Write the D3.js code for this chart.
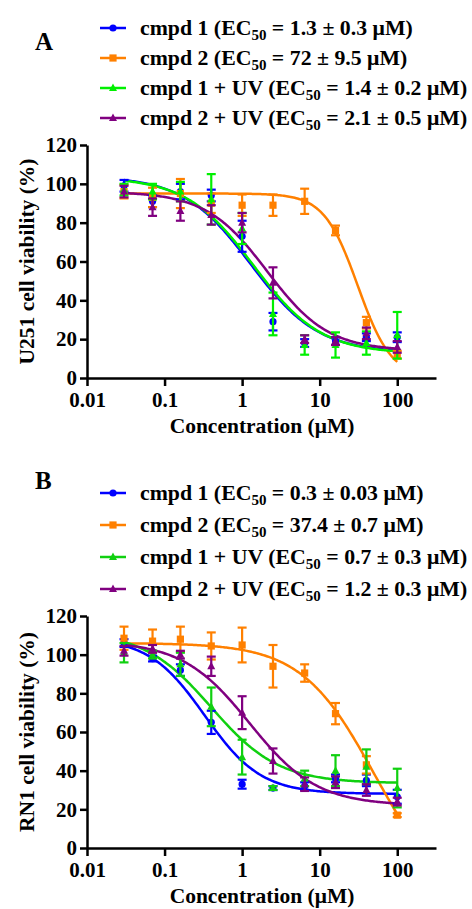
<!DOCTYPE html>
<html>
<head>
<meta charset="utf-8">
<script src="https://cdn.jsdelivr.net/npm/d3@7"></script>
<style>
  body { margin: 0; background: #fff; }
  svg text { font-family: "Liberation Serif", "Times New Roman", serif; font-weight: bold; fill: #000; }
</style>
</head>
<body>
<svg id="chart" width="472" height="909"></svg>
<script>
// Concentrations (uM), same for every series
const conc = [0.03, 0.07, 0.16, 0.4, 1, 2.5, 6.4, 16, 40, 100]
const xTicks = [0.01, 0.1, 1, 10, 100]
const xTickLabels = ["0.01", "0.1", "1", "10", "100"]
const yTicks = [0, 20, 40, 60, 80, 100, 120]

const seriesNames = ["cmpd 1", "cmpd 2", "cmpd 1 + UV", "cmpd 2 + UV"]

// Panel A (U251) means and errors
const aCmpd1 = [99, 91, 96, 94, 73, 29, 18, 19, 21, 21]
const aCmpd1Err = [3, 3, 4, 3, 8, 4.5, 2, 2, 2, 2.5]
const aCmpd2 = [96, 93, 95, 90, 89, 89, 91, 76, 28.5, 12]
const aCmpd2Err = [3.5, 5, 7.5, 5, 5.5, 5.5, 6.5, 2.5, 3, 2]
const aCmpd1UV = [97, 96, 96, 92, 77, 33, 17, 17, 18, 22]
const aCmpd1UVErr = [3, 4, 5, 13, 8, 11, 5, 6.5, 6, 12]
const aCmpd2UV = [96, 88, 86, 84, 80, 49, 20, 19, 23, 16]
const aCmpd2UVErr = [3, 4.5, 5, 5, 5, 8, 2, 2, 3, 3]
// fitted curves: [top, bottom, EC50, hill]
const aFits = [[104, 13, 1.3, 1], [95, 0, 31, 2], [103.5, 12.5, 1.4, 1], [96, 14, 2.1, 1.1]]
const aLegendEC = ["1.3 ± 0.3", "72 ± 9.5", "1.4 ± 0.2", "2.1 ± 0.5"]

// Panel B (RN1)
const bCmpd1 = [106, 98, 92, 65, 33, 31, 32, 36, 35, 26.5]
const bCmpd1Err = [2, 1.5, 3, 6, 2.3, 1, 2, 2, 3, 3.6]
const bCmpd2 = [108.5, 107, 108, 104.5, 105, 94, 90.5, 69.5, 43, 17]
const bCmpd2Err = [6, 6, 6.5, 7, 9, 11, 4.5, 5.5, 4.5, 1]
const bCmpd1UV = [101, 100, 95, 73, 47, 31, 36, 40, 42, 31]
const bCmpd1UVErr = [5, 2, 6, 10, 9, 1, 4, 8, 9, 10]
const bCmpd2UV = [102, 103, 100, 94, 70, 45, 33, 34, 30, 24]
const bCmpd2UVErr = [2.5, 2, 2, 5, 8.5, 6.5, 3.5, 3, 3, 2]
const bFits = [[109, 28, 0.33, 1.2], [106, -30, 51, 0.92], [112, 33.5, 0.4, 1], [107, 22, 1.25, 1]]
const bLegendEC = ["0.3 ± 0.03", "37.4 ± 0.7", "0.7 ± 0.3", "1.2 ± 0.3"]

const markers = ["circle", "square", "triangle", "triangle"]

const svg = d3.select("#chart")

// 4-parameter logistic used for the fit lines
function logistic(p, x) {
  return p[1] + (p[0] - p[1]) / (1 + Math.pow(x / p[2], p[3]))
}

function drawMarker(g, type, x, y, color) {
  if (type === "circle") {
    g.append("circle").attr("cx", x).attr("cy", y).attr("r", 3.6).attr("fill", color)
  } else if (type === "square") {
    g.append("rect").attr("x", x - 3.6).attr("y", y - 3.6).attr("width", 7.2).attr("height", 7.2).attr("fill", color)
  } else {
    g.append("path")
      .attr("d", `M${x},${y - 4.5}L${x + 4},${y + 3}L${x - 4},${y + 3}Z`)
      .attr("fill", color)
  }
}

function drawPanel(cfg) {
  const x = d3.scaleLog().domain([0.01, 316]).range([87, 436])
  const y = d3.scaleLinear().domain([0, 120]).range([cfg.bottom, cfg.top])
  const g = svg.append("g")

  // panel letter
  g.append("text").attr("x", 35).attr("y", cfg.letterY).style("font-size", "25px").text(cfg.letter)

  // legend
  cfg.series.forEach((s, i) => {
    const ly = cfg.legendY[i]
    g.append("line").attr("x1", 100).attr("x2", 126).attr("y1", ly).attr("y2", ly)
      .attr("stroke", s.color).attr("stroke-width", 2.5)
    drawMarker(g, markers[i], 113, ly, s.color)
    const t = g.append("text").attr("x", 140).attr("y", ly + 6.5).style("font-size", "21.8px")
    t.append("tspan").text(`${seriesNames[i]} (EC`)
    t.append("tspan").attr("dy", 5).style("font-size", "15px").text("50")
    t.append("tspan").attr("dy", -5).text(` = ${cfg.legendEC[i]} μM)`)
  })

  // axes
  const xAxis = g.append("g").attr("transform", `translate(0,${cfg.bottom})`)
    .call(d3.axisBottom(x).tickValues(xTicks).tickFormat((d, i) => xTickLabels[i]).tickSize(8).tickPadding(6).tickSizeOuter(0))
  const yAxis = g.append("g").attr("transform", "translate(87,0)")
    .call(d3.axisLeft(y).tickValues(yTicks).tickSize(7).tickPadding(3).tickSizeOuter(0))
  ;[xAxis, yAxis].forEach((a) => {
    a.select(".domain").attr("stroke-width", 2.5)
    a.selectAll(".tick line").attr("stroke-width", 2.5)
    a.selectAll("text").style("font-size", "21px").attr("font-family", null)
  })

  // axis titles
  g.append("text").attr("x", 262).attr("y", cfg.bottom + 55).attr("text-anchor", "middle")
    .style("font-size", "21.5px").text("Concentration (μM)")
  g.append("text").attr("transform", `translate(34,${(cfg.top + cfg.bottom) / 2}) rotate(-90)`)
    .attr("text-anchor", "middle").style("font-size", "21.5px").text(cfg.yTitle)

  // fit curves
  const xs = d3.range(0, 201).map((k) => Math.pow(10, Math.log10(0.03) + (k / 200) * (2 - Math.log10(0.03))))
  const line = d3.line().x((d) => x(d[0])).y((d) => y(d[1]))
  cfg.series.forEach((s) => {
    g.append("path").datum(xs.map((c) => [c, logistic(s.fit, c)]))
      .attr("d", line).attr("fill", "none").attr("stroke", s.color).attr("stroke-width", 2.5)
  })

  // error bars and markers
  cfg.series.forEach((s, i) => {
    const sg = g.append("g")
    s.values.forEach((v, j) => {
      const cx = x(conc[j])
      const lo = y(v - s.err[j])
      const hi = y(v + s.err[j])
      sg.append("line").attr("x1", cx).attr("x2", cx).attr("y1", lo).attr("y2", hi)
        .attr("stroke", s.color).attr("stroke-width", 2.2)
      ;[lo, hi].forEach((yy) => {
        sg.append("line").attr("x1", cx - 4.5).attr("x2", cx + 4.5).attr("y1", yy).attr("y2", yy)
          .attr("stroke", s.color).attr("stroke-width", 2.2)
      })
      drawMarker(sg, markers[i], cx, y(v), s.color)
    })
  })
}

drawPanel({
  letter: "A", letterY: 50, top: 145, bottom: 378,
  legendY: [28, 58, 88, 118], legendEC: aLegendEC,
  yTitle: "U251 cell viability (%)",
  series: [
    { values: aCmpd1, err: aCmpd1Err, fit: aFits[0], color: "#0000ff" },
    { values: aCmpd2, err: aCmpd2Err, fit: aFits[1], color: "#ff8000" },
    { values: aCmpd1UV, err: aCmpd1UVErr, fit: aFits[2], color: "#00f000" },
    { values: aCmpd2UV, err: aCmpd2UVErr, fit: aFits[3], color: "#800080" },
  ],
})

drawPanel({
  letter: "B", letterY: 489, top: 616, bottom: 848,
  legendY: [493, 525, 557, 589], legendEC: bLegendEC,
  yTitle: "RN1 cell viability (%)",
  series: [
    { values: bCmpd1, err: bCmpd1Err, fit: bFits[0], color: "#0000ff" },
    { values: bCmpd2, err: bCmpd2Err, fit: bFits[1], color: "#ff8000" },
    { values: bCmpd1UV, err: bCmpd1UVErr, fit: bFits[2], color: "#10d010" },
    { values: bCmpd2UV, err: bCmpd2UVErr, fit: bFits[3], color: "#800080" },
  ],
})
</script>
</body>
</html>
